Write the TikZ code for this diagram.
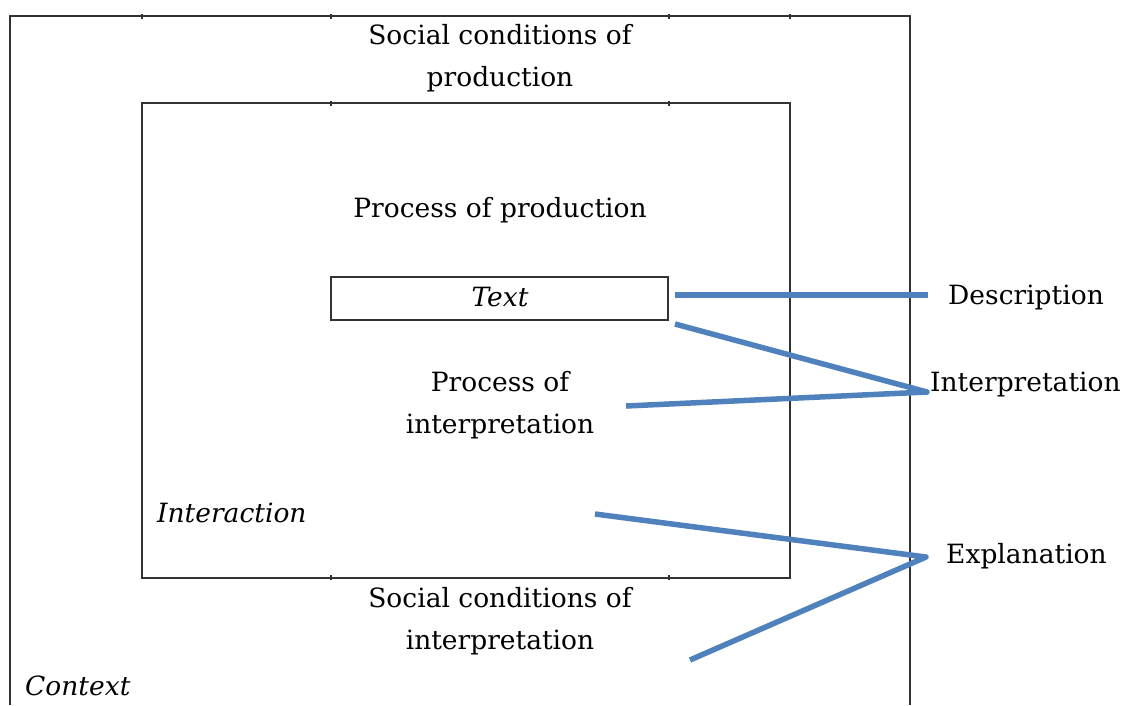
\documentclass[tikz,border=0pt]{standalone}
\usepackage{fontspec}
\setmainfont{DejaVu Serif}
\begin{document}
\begin{tikzpicture}[x=1pt,y=-1pt,
  lbl/.style={inner sep=0pt,font=\fontsize{26.5}{42}\selectfont,align=center},
  frame/.style={draw=black!80,line width=1.3pt},
  conn/.style={draw={rgb,255:red,79;green,129;blue,189},line width=5.5pt,line join=round}]
\useasboundingbox (0,0) rectangle (1126,705);
% outer context frame (open at bottom)
\draw[frame] (10,705) -- (10,16) -- (910,16) -- (910,705);
\foreach \x in {142,331,669,790} \draw[frame] (\x,14) -- (\x,19);
% inner interaction frame
\draw[frame] (142,103) rectangle (790,578);
\foreach \x in {331,669} {\draw[frame] (\x,101) -- (\x,106); \draw[frame] (\x,575) -- (\x,580);}
% text box
\node[draw=black!80,line width=1.3pt,minimum width=337pt,minimum height=43pt,inner sep=0pt] (text) at (499.5,298.5) {};
\node[lbl] (textlbl) at (500,297) {\itshape Text};
% labels
\node[lbl] (scp) at (500,58) {Social conditions of\\production};
\node[lbl] (pp) at (500,210) {Process of production};
\node[lbl] (pi) at (500,405) {Process of\\interpretation};
\node[lbl,anchor=west] (inter) at (157,513) {\itshape Interaction};
\node[lbl] (sci) at (500,621) {Social conditions of\\interpretation};
\node[lbl,anchor=west] (ctx) at (25,686) {\itshape Context};
\node[lbl,anchor=west] (desc) at (948,297) {Description};
\node[lbl,anchor=west] (interp) at (930,384) {Interpretation};
\node[lbl,anchor=west] (expl) at (946,556) {Explanation};
% connector end points
\coordinate (d1) at (675,295);
\coordinate (d2) at (928,295);
\coordinate (i1) at (675,324);
\coordinate (i0) at (927,392);
\coordinate (i2) at (626,406);
\coordinate (e1) at (595,514);
\coordinate (e0) at (926,557);
\coordinate (e2) at (690,660);
\draw[conn] (d1) -- (d2);
\draw[conn] (i1) -- (i0) -- (i2);
\draw[conn] (e1) -- (e0) -- (e2);
\end{tikzpicture}
\end{document}
